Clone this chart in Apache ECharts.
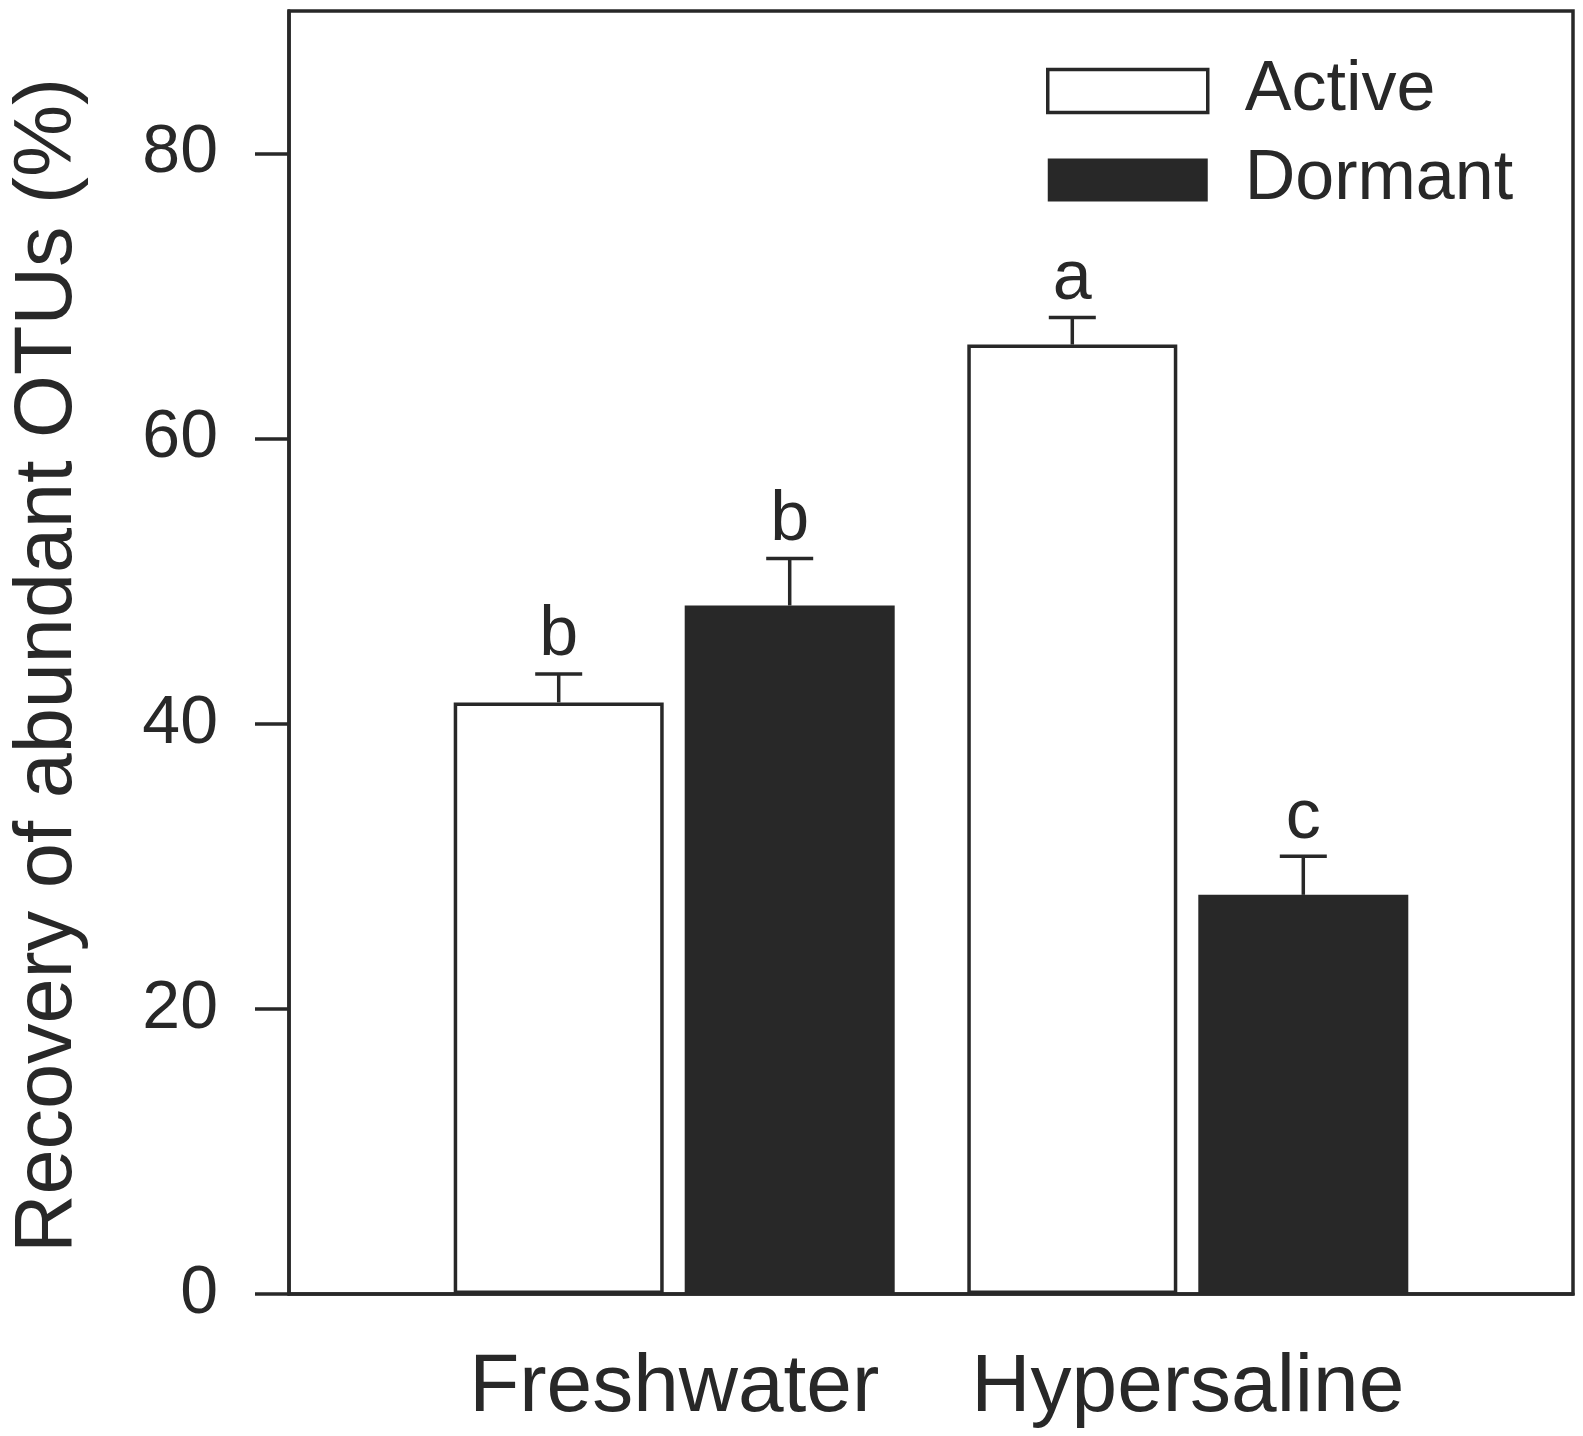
<!DOCTYPE html>
<html>
<head>
<meta charset="utf-8">
<script src="https://cdn.jsdelivr.net/npm/echarts@6/dist/echarts.min.js"></script>
<style>
  html, body { margin: 0; padding: 0; background: #fff; }
  #chart_otu { width: 1583px; height: 1436px; }
</style>
</head>
<body>
<div id="chart_otu"></div>
<script>
/********************  recovery of abundant OTUs  ********************/
var categories = ['Freshwater', 'Hypersaline'];
var activeMean = [41.5, 66.6];
var activeErr = [2.0, 1.9];
var activeLetters = ['b', 'a'];
var dormantMean = [48.3, 28.0];
var dormantErr = [3.3, 2.7];
var dormantLetters = ['b', 'c'];
var yTicks = [0, 20, 40, 60, 80];

var INK = '#282828';
var FONT = '"Liberation Sans", Arial, sans-serif';
var BAR_W = 210, BAR_GAP = '10%';

// pad the axis with empty bands so the groups sit like in the figure
var axisCats = [''];
categories.forEach(function (c) { axisCats.push(c, ''); });
function padded(arr) {
    var out = ['-'];
    arr.forEach(function (v) { out.push(v, '-'); });
    return out;
}
function errData(mean, err) {
    return mean.map(function (m, i) { return [2 * i + 1, m, err[i]]; });
}

function errSeries(mean, err, letters, idx) {
    return {
        type: 'custom',
        z: 5,
        clip: false,
        data: errData(mean, err),
        renderItem: function (params, api) {
            var cat = api.value(0), m = api.value(1), e = api.value(2);
            var base = api.coord([cat, m]);
            var top = api.coord([cat, m + e]);
            var lay = api.barLayout ? api.barLayout({barWidth: BAR_W, barGap: BAR_GAP, count: 2}) : null;
            var off = lay ? lay[idx].offsetCenter : (idx === 0 ? -115.5 : 115.5);
            var x = base[0] + off;
            var ls = {stroke: INK, lineWidth: 3.5};
            return {
                type: 'group',
                children: [
                    {type: 'line', shape: {x1: x, y1: base[1], x2: x, y2: top[1]}, style: ls},
                    {type: 'line', shape: {x1: x - 23.5, y1: top[1], x2: x + 23.5, y2: top[1]}, style: ls},
                    {type: 'text', x: x, y: top[1] - 3,
                     style: {text: letters[params.dataIndex], fill: INK, font: '70px ' + FONT,
                             textAlign: 'center', textVerticalAlign: 'bottom'}}
                ]
            };
        }
    };
}

var chart_otu = echarts.init(document.getElementById('chart_otu'));
var option_otu = {
    backgroundColor: '#fff',
    animation: false,
    textStyle: {fontFamily: FONT, color: INK},
    grid: {
        left: 289, right: 10, top: 11, bottom: 142,
        show: true, borderColor: INK, borderWidth: 3.5
    },
    legend: {
        data: [
            {name: 'Active', itemStyle: {color: '#fff', borderColor: INK, borderWidth: 3.5}},
            {name: 'Dormant', itemStyle: {color: INK, borderWidth: 0}}
        ],
        orient: 'vertical',
        left: 1041,
        top: 51,
        itemWidth: 160,
        itemHeight: 43,
        itemGap: 19,
        icon: 'rect',
        textStyle: {fontSize: 70, color: INK, fontFamily: FONT, padding: [0, 0, 0, 32]}
    },
    xAxis: {
        type: 'category',
        data: axisCats,
        axisLine: {lineStyle: {color: INK, width: 3.5}},
        axisTick: {show: false},
        axisLabel: {fontSize: 82, color: INK, margin: 53, interval: 0}
    },
    yAxis: {
        type: 'value',
        min: 0,
        max: 90,
        interval: 10,
        name: 'Recovery of abundant OTUs (%)',
        nameLocation: 'middle',
        nameGap: 200,
        nameTextStyle: {fontSize: 81, color: INK, padding: [0, 26, 0, 0]},
        splitLine: {show: false},
        axisLine: {show: true, lineStyle: {color: INK, width: 3.5}},
        axisTick: {show: true, length: 34, customValues: yTicks, lineStyle: {color: INK, width: 3.5}},
        axisLabel: {fontSize: 68, color: INK, margin: 71, customValues: yTicks}
    },
    series: [
        {
            name: 'Active',
            type: 'bar',
            data: padded(activeMean),
            barWidth: BAR_W,
            barGap: BAR_GAP,
            itemStyle: {color: '#fff', borderColor: INK, borderWidth: 3.5}
        },
        {
            name: 'Dormant',
            type: 'bar',
            data: padded(dormantMean),
            barWidth: BAR_W,
            barGap: BAR_GAP,
            itemStyle: {color: INK}
        },
        errSeries(activeMean, activeErr, activeLetters, 0),
        errSeries(dormantMean, dormantErr, dormantLetters, 1)
    ]
};
chart_otu.setOption(option_otu);
</script>
</body>
</html>
